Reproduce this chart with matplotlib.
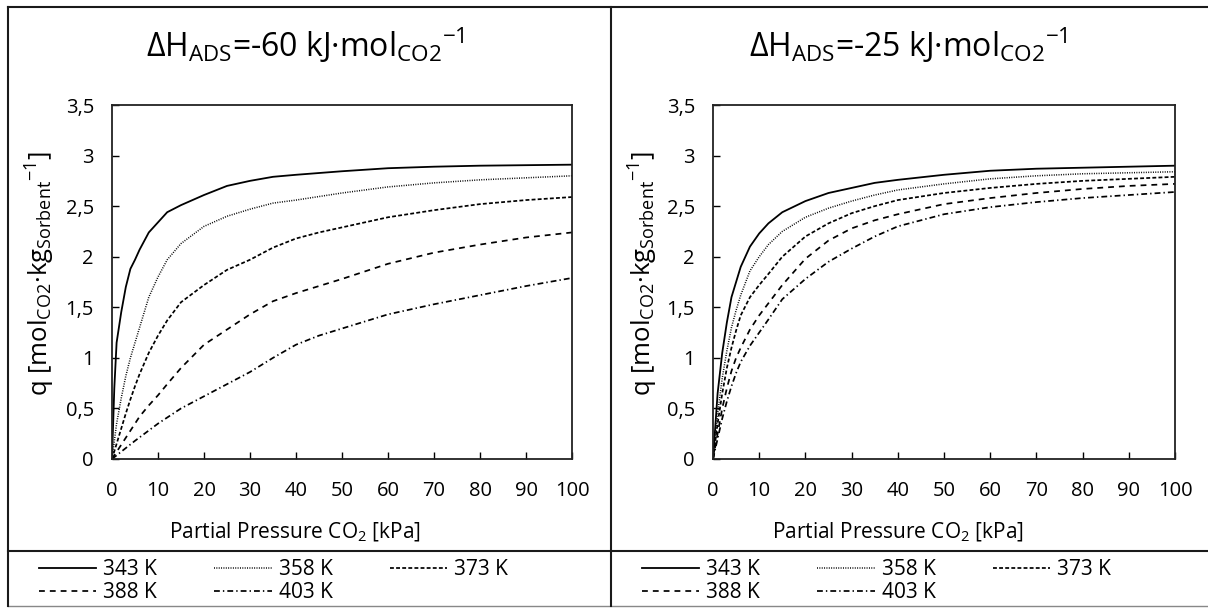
import matplotlib
matplotlib.use("Agg")
import matplotlib.pyplot as plt
from matplotlib.lines import Line2D

plt.rcParams['font.family'] = ['Open Sans', 'DejaVu Sans']
plt.rcParams['mathtext.default'] = 'regular'
plt.rcParams['lines.scale_dashes'] = False

# ---------------- data ----------------
temps = ["343 K", "358 K", "373 K", "388 K", "403 K"]

# dH = -60 kJ/mol panel
p60_343 = [0, 0.5, 1, 2, 3, 4, 5, 6, 8, 10, 12, 15, 20, 25, 30, 35, 40, 50, 60, 70, 80, 90, 100]
q60_343 = [0, 0.7, 1.15, 1.45, 1.7, 1.88, 1.97, 2.07, 2.24, 2.34, 2.44, 2.51, 2.61, 2.70, 2.75, 2.79, 2.81, 2.845, 2.875, 2.89, 2.90, 2.905, 2.91]
p60_358 = [0, 1, 2, 3, 4, 5, 6, 8, 10, 12, 15, 20, 25, 30, 35, 40, 50, 60, 70, 80, 90, 100]
q60_358 = [0, 0.35, 0.6, 0.82, 1.0, 1.15, 1.3, 1.6, 1.8, 1.97, 2.13, 2.3, 2.4, 2.47, 2.53, 2.56, 2.63, 2.69, 2.73, 2.76, 2.78, 2.80]
p60_373 = [0, 1, 2, 3, 4, 5, 6, 8, 10, 12, 15, 20, 25, 30, 35, 40, 45, 50, 60, 70, 80, 90, 100]
q60_373 = [0, 0.15, 0.3, 0.45, 0.59, 0.72, 0.84, 1.05, 1.22, 1.37, 1.55, 1.72, 1.87, 1.97, 2.09, 2.18, 2.24, 2.29, 2.39, 2.46, 2.52, 2.56, 2.59]
p60_388 = [0, 2, 4, 6, 8, 10, 12, 15, 20, 25, 30, 35, 40, 50, 60, 70, 80, 90, 100]
q60_388 = [0, 0.14, 0.28, 0.42, 0.53, 0.63, 0.74, 0.9, 1.13, 1.28, 1.43, 1.56, 1.64, 1.78, 1.93, 2.04, 2.12, 2.19, 2.24]
p60_403 = [0, 5, 10, 15, 20, 25, 30, 35, 40, 45, 50, 60, 70, 80, 90, 100]
q60_403 = [0, 0.18, 0.35, 0.5, 0.62, 0.74, 0.86, 1.0, 1.13, 1.22, 1.29, 1.43, 1.53, 1.62, 1.71, 1.79]

# dH = -25 kJ/mol panel
p25 = [0, 1, 2, 3, 4, 5, 6, 8, 10, 12, 15, 20, 25, 30, 35, 40, 50, 60, 70, 80, 90, 100]
q25_343 = [0, 0.65, 1.05, 1.35, 1.6, 1.75, 1.9, 2.1, 2.23, 2.33, 2.44, 2.55, 2.63, 2.68, 2.73, 2.76, 2.81, 2.85, 2.87, 2.88, 2.89, 2.90]
q25_358 = [0, 0.45, 0.8, 1.07, 1.3, 1.47, 1.62, 1.86, 2.0, 2.12, 2.25, 2.39, 2.48, 2.55, 2.61, 2.66, 2.72, 2.77, 2.80, 2.82, 2.83, 2.84]
q25_373 = [0, 0.35, 0.65, 0.9, 1.1, 1.27, 1.42, 1.6, 1.72, 1.83, 2.0, 2.2, 2.33, 2.43, 2.5, 2.56, 2.63, 2.68, 2.72, 2.75, 2.77, 2.79]
q25_388 = [0, 0.25, 0.5, 0.7, 0.87, 1.0, 1.1, 1.28, 1.42, 1.54, 1.72, 1.98, 2.16, 2.28, 2.36, 2.42, 2.52, 2.58, 2.63, 2.67, 2.70, 2.72]
q25_403 = [0, 0.2, 0.4, 0.57, 0.72, 0.85, 0.96, 1.12, 1.25, 1.38, 1.58, 1.78, 1.95, 2.08, 2.2, 2.3, 2.42, 2.49, 2.54, 2.58, 2.61, 2.64]

xticks = [0, 10, 20, 30, 40, 50, 60, 70, 80, 90, 100]
yticks = [0, 0.5, 1, 1.5, 2, 2.5, 3, 3.5]
ytick_labels = ["0", "0,5", "1", "1,5", "2", "2,5", "3", "3,5"]

titles = [r"ΔH$_{ADS}$=-60 kJ·mol$_{CO2}$$^{-1}$",
          r"ΔH$_{ADS}$=-25 kJ·mol$_{CO2}$$^{-1}$"]
xlabel = r"Partial Pressure CO$_{2}$ [kPa]"
ylabel = r"q [mol$_{CO2}$·kg$_{Sorbent}$$^{-1}$]"

styles = [
    dict(linestyle='-', lw=1.3),
    dict(linestyle=(0, (0.7, 1.0)), lw=1.1),
    dict(linestyle=(0, (2.8, 1.6)), lw=1.25),
    dict(linestyle=(0, (4.2, 3.6)), lw=1.25),
    dict(linestyle=(0, (4.2, 2.2, 1.0, 2.2)), lw=1.25),
]

W, H = 1208, 608
fig = plt.figure(figsize=(W / 100, H / 100), dpi=100)

def fx(px):
    return px / W

def fy(py):
    return 1 - py / H

panels = [
    dict(ax_left=112, ax_right=572, off=0,
         series=[(p60_343, q60_343), (p60_358, q60_358), (p60_373, q60_373),
                 (p60_388, q60_388), (p60_403, q60_403)]),
    dict(ax_left=713, ax_right=1175, off=603,
         series=[(p25, q25_343), (p25, q25_358), (p25, q25_373),
                 (p25, q25_388), (p25, q25_403)]),
]

# legend is filled column-wise by matplotlib; reorder so it reads row-wise
leg_order = [0, 3, 1, 4, 2]

ax_top, ax_bot = 105, 459
for i, pn in enumerate(panels):
    ax = fig.add_axes([fx(pn['ax_left']), fy(ax_bot),
                       fx(pn['ax_right'] - pn['ax_left']), (ax_bot - ax_top) / H])
    handles = []
    for (xs, ys), st, lab in zip(pn['series'], styles, temps):
        h, = ax.plot(xs, ys, color='black', label=lab, **st)
        handles.append(h)
    ax.set_xlim(0, 100)
    ax.set_ylim(0, 3.5)
    ax.set_xticks(xticks)
    ax.set_yticks(yticks)
    ax.set_yticklabels(ytick_labels)
    ax.tick_params(direction='in', length=5, width=1.0, labelsize=14.5, colors='black')
    ax.tick_params(axis='x', pad=16)
    ax.tick_params(axis='y', pad=13)
    for s in ax.spines.values():
        s.set_linewidth(1.3)
        s.set_color('#222222')
    off = pn['off']
    fig.text(fx(305 + off), fy(45), titles[i], ha='center', va='center', fontsize=23)
    fig.text(fx(295 + off), fy(532), xlabel, ha='center', va='center', fontsize=15)
    fig.text(fx(40 + off), fy(273), ylabel, ha='center', va='center', fontsize=18.5, rotation=90)
    fig.legend(handles=[handles[k] for k in leg_order],
               labels=[temps[k] for k in leg_order], ncol=3, loc='upper left',
               bbox_to_anchor=(fx(36 + off), fy(556)), frameon=False,
               fontsize=15, handlelength=2.75, handletextpad=0.33,
               columnspacing=2.75, labelspacing=0.1, borderpad=0.15,
               borderaxespad=0)

# outer frames
lc = '#1a1a1a'
lw = 1.5
fig.add_artist(Line2D([fx(8), fx(1208)], [fy(7), fy(7)], color=lc, lw=lw))
fig.add_artist(Line2D([fx(8), fx(1208)], [fy(551), fy(551)], color=lc, lw=lw))
fig.add_artist(Line2D([fx(8), fx(1208)], [fy(606), fy(606)], color='#888888', lw=1.0))
fig.add_artist(Line2D([fx(8), fx(8)], [fy(7), fy(606)], color=lc, lw=lw))
fig.add_artist(Line2D([fx(611), fx(611)], [fy(7), fy(606)], color=lc, lw=lw))

fig.savefig("out.png", dpi=100)
